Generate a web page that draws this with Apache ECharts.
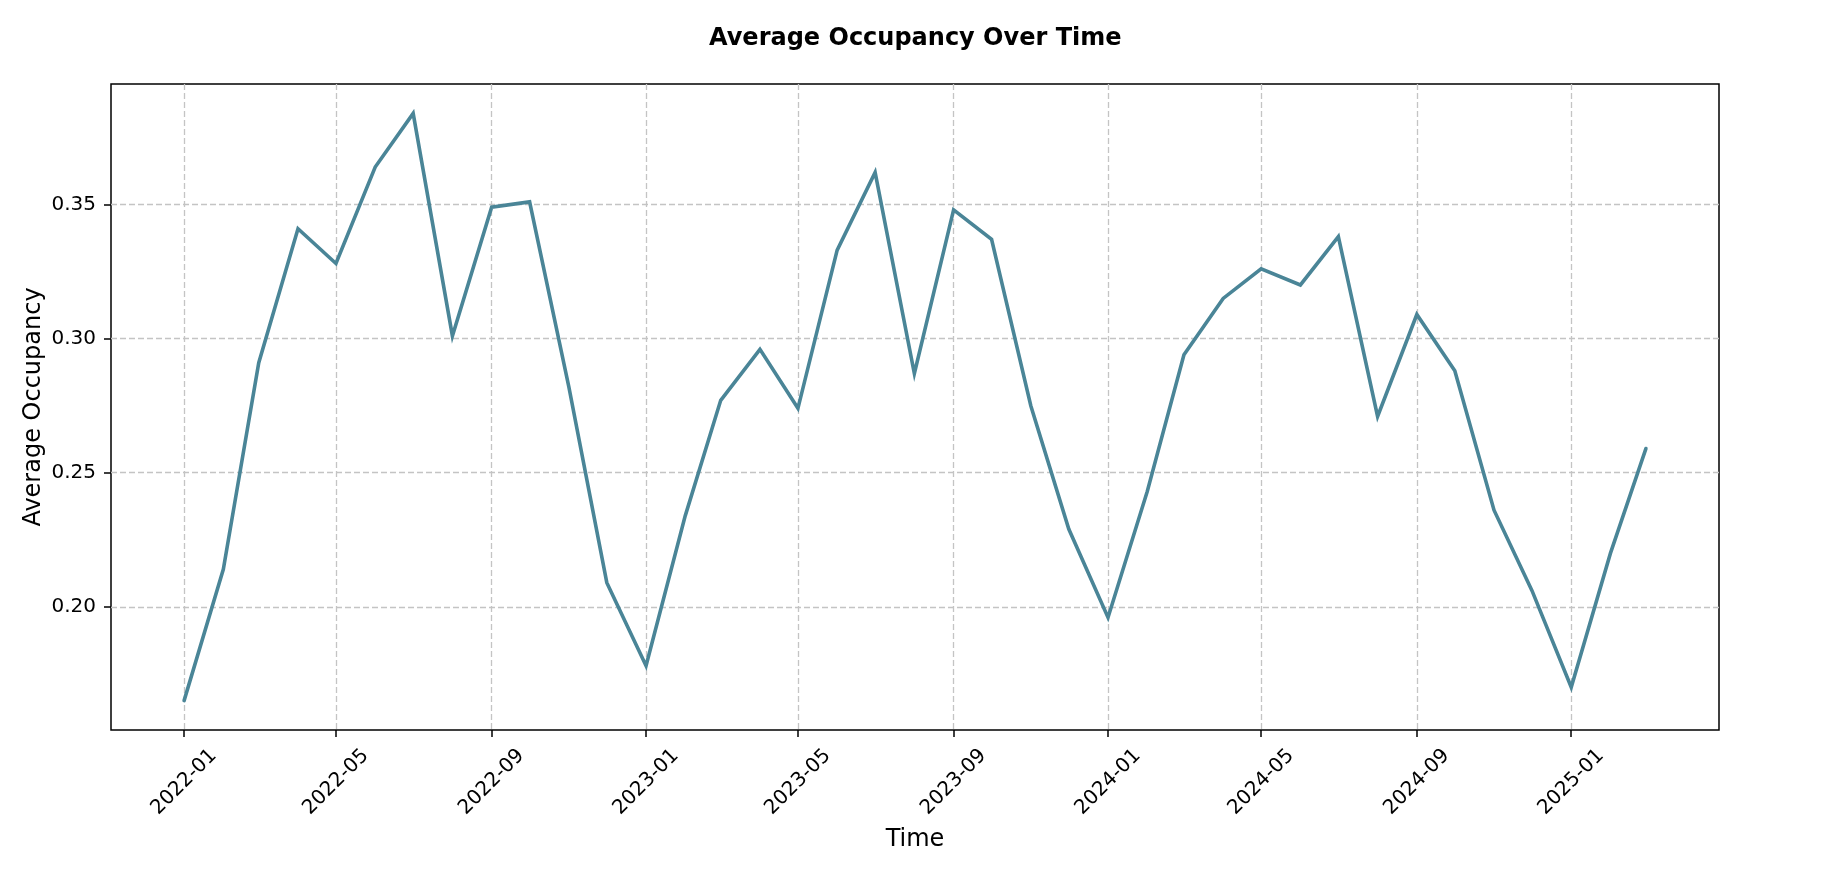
<!DOCTYPE html>
<html>
<head>
<meta charset="utf-8">
<script src="https://cdn.jsdelivr.net/npm/echarts@6/dist/echarts.min.js"></script>
<style>
  html, body { margin: 0; padding: 0; background: #fff; }
  #chart { width: 1842px; height: 896px; }
</style>
</head>
<body>
<div id="chart"></div>
<script>
// ---- data ----
const months = [
  '2022-01','2022-02','2022-03','2022-04','2022-05','2022-06','2022-07','2022-08','2022-09','2022-10','2022-11','2022-12',
  '2023-01','2023-02','2023-03','2023-04','2023-05','2023-06','2023-07','2023-08','2023-09','2023-10','2023-11','2023-12',
  '2024-01','2024-02','2024-03','2024-04','2024-05','2024-06','2024-07','2024-08','2024-09','2024-10','2024-11','2024-12',
  '2025-01','2025-02','2025-03'
];
const occupancy = [
  0.165, 0.214, 0.291, 0.341, 0.328, 0.364, 0.384, 0.301, 0.349, 0.351, 0.282, 0.209,
  0.178, 0.234, 0.277, 0.296, 0.274, 0.333, 0.362, 0.287, 0.348, 0.337, 0.275, 0.229,
  0.196, 0.243, 0.294, 0.315, 0.326, 0.320, 0.338, 0.271, 0.309, 0.288, 0.236, 0.206,
  0.170, 0.220, 0.259
];
const xTickLabels = ['2022-01','2022-05','2022-09','2023-01','2023-05','2023-09','2024-01','2024-05','2024-09','2025-01'];
const yTickValues = [0.20, 0.25, 0.30, 0.35];

// ---- helpers ----
function toTs(ym) {
  const p = ym.split('-');
  return Date.UTC(+p[0], +p[1] - 1, 1);
}
const seriesData = months.map((m, i) => [toTs(m), occupancy[i]]);
const xTickTs = xTickLabels.map(toTs);
function tsLabel(v) {
  let best = 0, bd = Infinity;
  for (let i = 0; i < xTickTs.length; i++) {
    const d = Math.abs(xTickTs[i] - v);
    if (d < bd) { bd = d; best = i; }
  }
  return bd < 86400000 ? xTickLabels[best] : '';
}

const xFirst = toTs(months[0]);
const xLast = toTs(months[months.length - 1]);
const xPad = (xLast - xFirst) * 0.05;
const yMinData = Math.min.apply(null, occupancy);
const yMaxData = Math.max.apply(null, occupancy);
const yPad = (yMaxData - yMinData) * 0.05;

const FONT = 'DejaVu Sans';
const gridLeft = 111, gridRight = 123, gridTop = 84, gridBottom = 166;

const chart = echarts.init(document.getElementById('chart'), null, { renderer: 'canvas' });
chart.setOption({
  animation: false,
  backgroundColor: '#ffffff',
  title: {
    text: 'Average Occupancy Over Time',
    left: 704,
    top: 22,
    textStyle: { fontFamily: FONT, fontWeight: 'bold', fontSize: 24, color: '#000' }
  },
  grid: {
    left: gridLeft, right: gridRight, top: gridTop, bottom: gridBottom,
    show: true, borderColor: '#000', borderWidth: 1.5, backgroundColor: 'transparent',
    containLabel: false
  },
  xAxis: {
    type: 'value',
    min: xFirst - xPad,
    max: xLast + xPad,
    name: 'Time',
    nameLocation: 'middle',
    nameGap: 98,
    nameMoveOverlap: false,
    nameTextStyle: { fontFamily: FONT, fontSize: 24, color: '#000' },
    axisLine: { show: false },
    axisTick: { show: true, length: 7, inside: false, customValues: xTickTs, lineStyle: { color: '#000', width: 1.5 } },
    axisLabel: {
      customValues: xTickTs,
      rotate: 45,
      align: 'center',
      verticalAlign: 'middle',
      margin: 52,
      showMinLabel: true,
      showMaxLabel: true,
      fontFamily: FONT, fontSize: 20, color: '#000',
      formatter: function (v) { return tsLabel(v); }
    },
    splitLine: { show: true, lineStyle: { color: '#c4c4c4', width: 1.3, type: [6, 3] } }
  },
  yAxis: {
    type: 'value',
    min: yMinData - yPad,
    max: yMaxData + yPad,
    name: 'Average Occupancy',
    nameLocation: 'middle',
    nameGap: 65,
    nameMoveOverlap: false,
    nameTextStyle: { fontFamily: FONT, fontSize: 24, color: '#000' },
    axisLine: { show: false },
    axisTick: { show: true, length: 7, inside: false, customValues: yTickValues, lineStyle: { color: '#000', width: 1.5 } },
    axisLabel: {
      customValues: yTickValues,
      margin: 15,
      fontFamily: FONT, fontSize: 20, color: '#000',
      formatter: function (v) { return v.toFixed(2); }
    },
    splitLine: { show: true, lineStyle: { color: '#c4c4c4', width: 1.3, type: [6, 3] } }
  },
  series: [{
    type: 'line',
    data: seriesData,
    showSymbol: false,
    symbol: 'none',
    lineStyle: { color: '#4A8597', width: 3.6, cap: 'round', join: 'miter' },
    itemStyle: { color: '#4A8597' }
  }]
});
</script>
</body>
</html>
